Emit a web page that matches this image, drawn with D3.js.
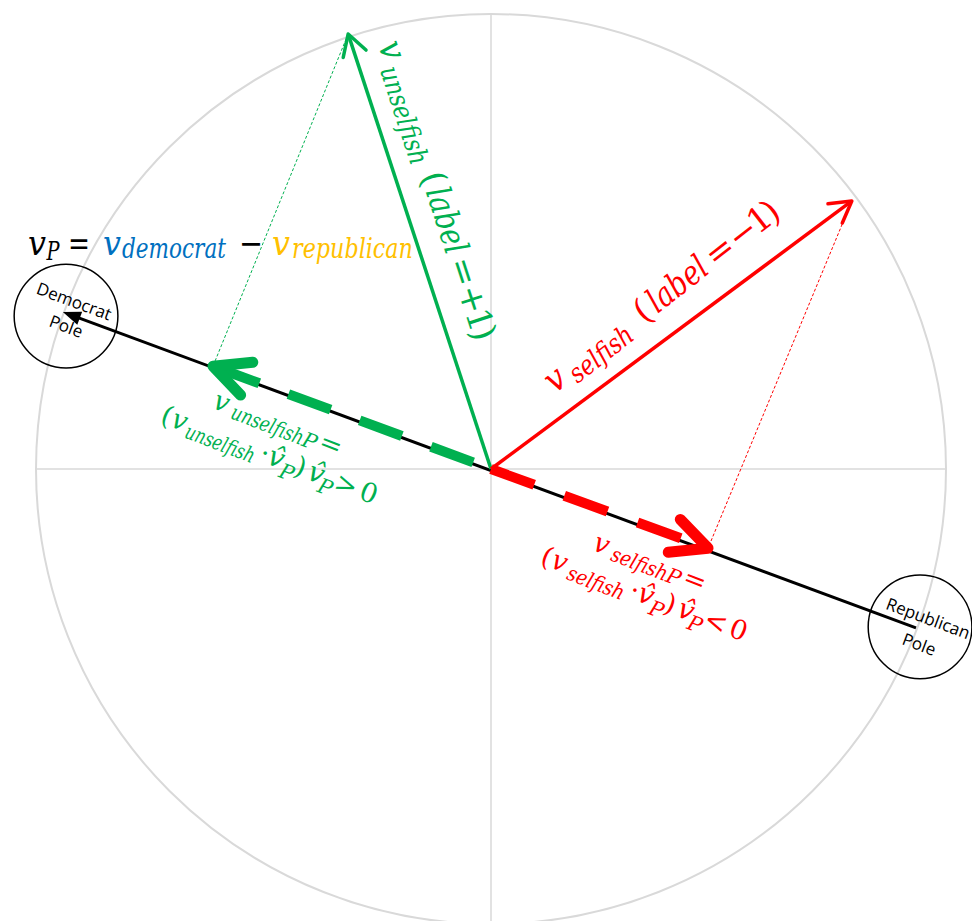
<!DOCTYPE html>
<html><head><meta charset="utf-8">
<script src="https://cdn.jsdelivr.net/npm/d3@7"></script>
<style>body{margin:0;background:#fff}svg{display:block}</style>
</head><body>
<svg id="c" width="972" height="921"></svg>
<script>
// ---- data (unit-circle coordinates) ----
const vectorNames = ["unselfish", "selfish"];
const vectorLabels = ["+1", "\u22121"];
const vectorTips = [[-0.314, 0.956], [0.793, 0.589]];
const projectionTips = [[-0.611, 0.226], [0.477, -0.174]];
const projectionSigns = [">", "<"];
const vectorColors = ["#00b050", "#ff0000"];
const poleNames = ["Democrat", "Republican"];
const polePoints = [[-0.941, 0.345], [0.934, -0.349]];
const poleCircleCenters = [[-0.934, 0.336], [0.943, -0.347]];
const poleRadius = 0.114;
const titleColors = ["#000000", "#0070c0", "#ffc000"];

const svg = d3.select("#c");
const x = d3.scaleLinear().domain([-1, 1]).range([36, 946]);
const y = d3.scaleLinear().domain([-1, 1]).range([924, 14]);
const P = p => [x(p[0]), y(p[1])];
const O = P([0, 0]);
const MATH = "'DejaVu Serif', serif";

// ---- background circle and axes ----
svg.append("circle").attr("cx", x(0)).attr("cy", y(0)).attr("r", x(1) - x(0))
  .attr("fill", "none").attr("stroke", "#d9d9d9").attr("stroke-width", 2);
svg.append("line").attr("x1", x(-1)).attr("x2", x(1)).attr("y1", y(0)).attr("y2", y(0))
  .attr("stroke", "#d9d9d9").attr("stroke-width", 1.5);
svg.append("line").attr("x1", x(0)).attr("x2", x(0)).attr("y1", y(1)).attr("y2", y(-1))
  .attr("stroke", "#d9d9d9").attr("stroke-width", 1.5);

// ---- thin dotted projection lines ----
vectorTips.forEach((v, i) => {
  const a = P(v), b = P(projectionTips[i]);
  svg.append("line").attr("x1", a[0]).attr("y1", a[1]).attr("x2", b[0]).attr("y2", b[1])
    .attr("stroke", vectorColors[i]).attr("stroke-width", 1).attr("stroke-dasharray", "3,2");
});

// ---- political axis ----
const dem = P(polePoints[0]), rep = P(polePoints[1]);
const adx = dem[0] - rep[0], ady = dem[1] - rep[1], alen = Math.hypot(adx, ady);
const au = [adx / alen, ady / alen];
svg.append("line").attr("x1", rep[0]).attr("y1", rep[1])
  .attr("x2", dem[0] - au[0] * 14).attr("y2", dem[1] - au[1] * 14)
  .attr("stroke", "#000").attr("stroke-width", 3);
{
  const L = 18, hw = 7;
  const bx = dem[0] - au[0] * L, by = dem[1] - au[1] * L;
  svg.append("path").attr("d",
    `M${dem[0]},${dem[1]}L${bx - au[1] * hw},${by + au[0] * hw}L${bx + au[1] * hw},${by - au[0] * hw}Z`)
    .attr("fill", "#000");
}
poleCircleCenters.forEach(c => {
  svg.append("circle").attr("cx", x(c[0])).attr("cy", y(c[1])).attr("r", x(poleRadius) - x(0))
    .attr("fill", "none").attr("stroke", "#000").attr("stroke-width", 1.5);
});

// ---- arrow helpers ----
function chevron(tip, from, L, theta) {
  const dx = from[0] - tip[0], dy = from[1] - tip[1], len = Math.hypot(dx, dy);
  const ux = dx / len, uy = dy / len;
  const rot = a => [tip[0] + L * (ux * Math.cos(a) - uy * Math.sin(a)),
                    tip[1] + L * (ux * Math.sin(a) + uy * Math.cos(a))];
  const a1 = rot(theta), a2 = rot(-theta);
  return `M${a1[0]},${a1[1]}L${tip[0]},${tip[1]}L${a2[0]},${a2[1]}`;
}

// ---- thick dashed projection arrows ----
const dashSpecs = [{ arr: "45,31", off: 57 }, { arr: "46,32", off: 0 }];
projectionTips.forEach((p, i) => {
  const t = P(p);
  svg.append("line").attr("x1", O[0]).attr("y1", O[1]).attr("x2", t[0]).attr("y2", t[1])
    .attr("stroke", vectorColors[i]).attr("stroke-width", 10)
    .attr("stroke-dasharray", dashSpecs[i].arr).attr("stroke-dashoffset", dashSpecs[i].off);
  svg.append("path").attr("d", chevron(t, O, 40, 26 * Math.PI / 180))
    .attr("fill", "none").attr("stroke", vectorColors[i]).attr("stroke-width", 11)
    .attr("stroke-linecap", "round").attr("stroke-linejoin", "round");
});

// ---- solid vectors ----
vectorTips.forEach((v, i) => {
  const t = P(v);
  const dx = t[0] - O[0], dy = t[1] - O[1], l = Math.hypot(dx, dy);
  svg.append("line").attr("x1", O[0]).attr("y1", O[1])
    .attr("x2", t[0] - dx / l * 2).attr("y2", t[1] - dy / l * 2)
    .attr("stroke", vectorColors[i]).attr("stroke-width", 3.5);
  svg.append("path").attr("d", chevron(t, O, 24, 30 * Math.PI / 180))
    .attr("fill", "none").attr("stroke", vectorColors[i]).attr("stroke-width", 3.5)
    .attr("stroke-linecap", "round").attr("stroke-linejoin", "round");
});

// ---- math label helper ----
// piece: [text, centre along baseline, width (or null), baseline shift, font size, italic?, colour]
function label(origin, angle, color, pieces) {
  const g = svg.append("g")
    .attr("transform", `translate(${origin[0]},${origin[1]}) rotate(${angle})`)
    .attr("fill", color).attr("font-family", MATH);
  pieces.forEach(([t, c, w, dy, fs, it, col]) => {
    const el = g.append("text").attr("font-size", fs)
      .attr("font-style", it ? "italic" : "normal").text(t);
    if (col) el.attr("fill", col);
    if (w) {
      const nat = el.node().getComputedTextLength() || w;
      const sx = w / nat;
      el.attr("transform", `translate(${c - w / 2},${dy}) scale(${sx},1)`);
    } else {
      el.attr("x", c).attr("y", dy).attr("text-anchor", "middle");
    }
  });
}

// title formula
label([28, 255], 0, "#000", [
  ["v", 9, 18, 0, 36, true, titleColors[0]],
  ["P", 25, 13, 5, 26, true, titleColors[0]],
  ["=", 51, 22, 0, 34, false, titleColors[0]],
  ["v", 84, 18, 0, 36, true, titleColors[1]],
  ["democrat", 146, 104, 3, 27, true, titleColors[1]],
  ["\u2212", 223, 24, 0, 34, false, titleColors[0]],
  ["v", 253, 18, 0, 36, true, titleColors[2]],
  ["republican", 324.5, 121, 3, 27, true, titleColors[2]]
]);

// vector labels
function vectorLabel(i, origin, angle, subW, parC) {
  label(origin, angle, vectorColors[i], [
    ["v", 9, 18, 0, 36, true],
    [vectorNames[i], subW[0] + subW[1] / 2, subW[1], 6, 27, true],
    ["(", parC, null, 0, 34, false],
    ["label", parC + 44, 68, 0, 34, true],
    ["=", parC + 98, null, 0, 34, false],
    [vectorLabels[i][0], parC + 127, null, 0, 34, false],
    [vectorLabels[i].slice(1), parC + 148.5, null, 0, 34, false],
    [")", parC + 162.5, null, 0, 34, false]
  ]);
}
vectorLabel(0, [378, 45], 72, [24, 102], 144);
vectorLabel(1, [555, 394], -38, [24, 74], 120);

// projection labels
function projLabel(i, o1, o2, angle, w1, w2) {
  const n = vectorNames[i], col = vectorColors[i];
  label(o1, angle, col, [
    ["v", 7, 15, 0, 28, true],
    [n, w1[0] + w1[1] / 2, w1[1], 3, 21, true],
    ["P", w1[0] + w1[1] + 7, null, 3, 21, true],
    ["=", w1[0] + w1[1] + 28, null, 0, 27, false]
  ]);
  label(o2, angle, col, [
    ["(", 2, null, 0, 27, false],
    ["v", 15.5, 15, 0, 28, true],
    [n, w2[0] + w2[1] / 2, w2[1], 5, 21, true],
    ["\u22c5", w2[0] + w2[1] + 9, null, 0, 27, false],
    ["v\u0302", w2[0] + w2[1] + 21, null, 0, 28, true],
    ["P", w2[0] + w2[1] + 36, null, 8, 21, true],
    [")", w2[0] + w2[1] + 47, null, 0, 27, false],
    ["v\u0302", w2[0] + w2[1] + 64, null, 0, 28, true],
    ["P", w2[0] + w2[1] + 77, null, 8, 21, true],
    [projectionSigns[i], w2[0] + w2[1] + 96, null, 0, 27, false],
    ["0", w2[0] + w2[1] + 120, null, 0, 27, false]
  ]);
}
projLabel(0, [212, 408], [162, 423.5], 21, [20, 76], [25, 73]);
projLabel(1, [592, 550], [542, 564.5], 21, [20, 59], [27, 60]);

// pole labels
const poleTextPos = [[[72, 307], [64, 332]], [[926, 624], [917, 650]]];
poleNames.forEach((nm, i) => {
  [nm, "Pole"].forEach((t, j) => {
    const p = poleTextPos[i][j];
    svg.append("text").attr("transform", `translate(${p[0]},${p[1]}) rotate(20.4)`)
      .attr("text-anchor", "middle").attr("font-family", "'Open Sans', sans-serif")
      .attr("font-size", 17).attr("fill", "#000").text(t);
  });
});
</script>
</body></html>
